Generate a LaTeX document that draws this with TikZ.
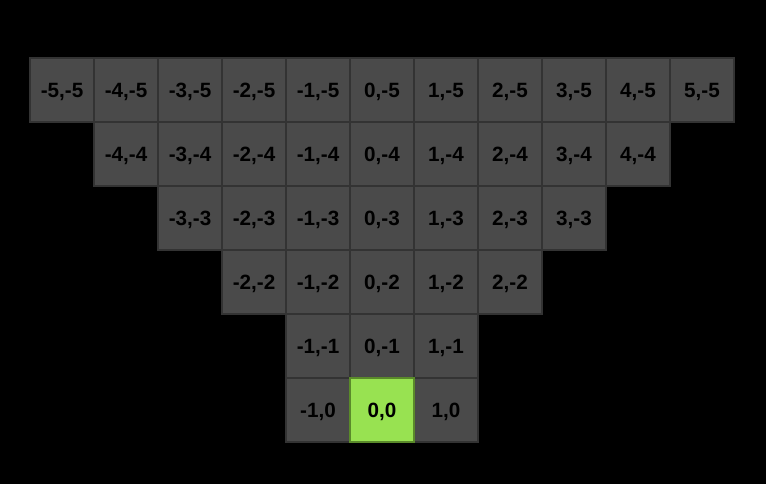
\documentclass[tikz,border=0pt]{standalone}
\usepackage{fontspec}
\setmainfont{Liberation Sans}
\usepackage{tikz}
\usetikzlibrary{positioning}

\definecolor{cellgray}{HTML}{4A4A4A}
\definecolor{cellline}{HTML}{333333}
\definecolor{origfill}{HTML}{98E251}
\definecolor{origline}{HTML}{5A8A2A}

\begin{document}
\begin{tikzpicture}[x=0.75pt,y=-0.75pt]

        \def\s{64}

        % one square per cell, the origin in green
        \tikzset{
            cell/.style={draw=cellline, fill=cellgray, line width=1.5pt,
                minimum size=48pt, inner sep=0pt, text depth=-0.8pt,
                font=\bfseries\fontsize{15.5}{18}\selectfont},
            origin/.style={cell, draw=origline, fill=origfill}
        }

        \fill[black] (0,0) rectangle (766,484);

        % rows from -5 up to -1
        \foreach \j in {-5,...,-1}{
            \pgfmathtruncatemacro{\k}{max(-\j,1)}
            \foreach \i in {-\k,...,\k}
            \node[cell] (c\i\j) at ({62+(\i+5)*\s},{90+(\j+5)*\s}) {\i,\j};
        }

        % bottom row
        \node[cell] (c-10) at ({62+4*\s},{90+5*\s}) {-1,0};
        \node[cell] (c10) at ({62+6*\s},{90+5*\s}) {1,0};
        \node[origin] (c00) at ({62+5*\s},{90+5*\s}) {0,0};

\end{tikzpicture}
\end{document}
